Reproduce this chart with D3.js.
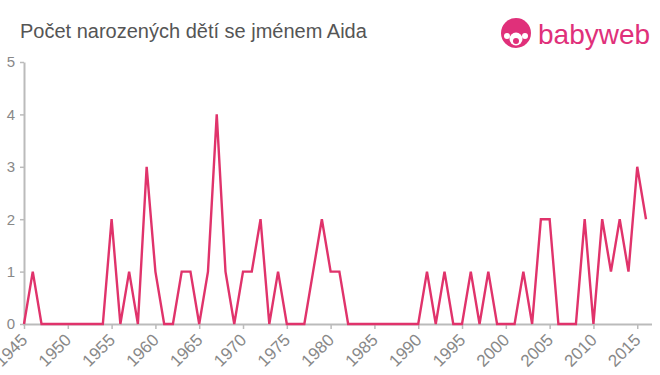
<!DOCTYPE html>
<html>
<head>
<meta charset="utf-8">
<script src="https://cdn.jsdelivr.net/npm/d3@7"></script>
<style>
  body { margin: 0; background: #fff; }
  svg text { font-family: "Liberation Sans", Arial, sans-serif; }
</style>
</head>
<body>
<div id="graf"></div>
<script>
const roky = d3.range(1945, 2017);
const pocty = [
  0, 1, 0, 0, 0, 0, 0, 0, 0, 0,   // 1945-1954
  2, 0, 1, 0, 3, 1, 0, 0, 1, 1,   // 1955-1964
  0, 1, 4, 1, 0, 1, 1, 2, 0, 1,   // 1965-1974
  0, 0, 0, 1, 2, 1, 1, 0, 0, 0,   // 1975-1984
  0, 0, 0, 0, 0, 0, 1, 0, 1, 0,   // 1985-1994
  0, 1, 0, 1, 0, 0, 0, 1, 0, 2,   // 1995-2004
  2, 0, 0, 0, 2, 0, 2, 1, 2, 1,   // 2005-2014
  3, 2                            // 2015-2016
];
const y_popisky = [0, 1, 2, 3, 4, 5];
const x_popisky = d3.range(1945, 2016, 5);
const nadpis = "Počet narozených dětí se jménem Aida";

const sirka = 660, vyska = 375;
const rand = { nahore: 62, dole: 51, vlevo: 24, vpravo: 14 };

const svg = d3.select("#graf")
  .append("svg")
  .attr("width", sirka)
  .attr("height", vyska);

const x = d3.scaleLinear()
  .domain([1945, 2016])
  .range([rand.vlevo, sirka - rand.vpravo]);

const y = d3.scaleLinear()
  .domain([0, 5])
  .range([vyska - rand.dole, rand.nahore]);

// osa y
const osaY = svg.append("g")
  .attr("transform", `translate(${rand.vlevo},0)`)
  .call(d3.axisLeft(y).tickValues(y_popisky).tickFormat(d3.format("d")).tickSize(4).tickSizeOuter(0).tickPadding(5));
osaY.select(".domain").attr("stroke", "#bbb").attr("stroke-width", 2);
osaY.selectAll(".tick line").attr("stroke", "#bbb").attr("stroke-width", 1.5);
osaY.selectAll(".tick text").attr("fill", "#888").attr("font-size", 15);

// osa x
const osaX = svg.append("g")
  .attr("transform", `translate(0,${vyska - rand.dole})`)
  .call(d3.axisBottom(x).tickValues(x_popisky).tickFormat(d3.format("d")).tickSize(5).tickSizeOuter(0));
osaX.select(".domain").attr("stroke", "#bbb").attr("stroke-width", 2)
  .attr("d", `M${rand.vlevo - 1},0.5H${sirka - 8}`);
osaX.selectAll(".tick line").attr("stroke", "#bbb").attr("stroke-width", 1.5);
osaX.selectAll(".tick text")
  .attr("fill", "#888")
  .attr("font-size", 17)
  .attr("text-anchor", "end")
  .attr("x", 0)
  .attr("y", 0)
  .attr("dy", 0)
  .attr("transform", "translate(4,17) rotate(-45)");

// čára
const cara = d3.line()
  .x((d, i) => x(roky[i]))
  .y(d => y(d));

svg.append("path")
  .datum(pocty)
  .attr("fill", "none")
  .attr("stroke", "#e0336b")
  .attr("stroke-width", 2.4)
  .attr("stroke-linejoin", "miter")
  .attr("d", cara);

// nadpis
svg.append("text")
  .attr("x", 20)
  .attr("y", 38)
  .attr("fill", "#555")
  .attr("font-size", 20)
  .text(nadpis);

// logo
const logo = svg.append("g").attr("transform", "translate(516,33)");
logo.append("circle").attr("r", 15).attr("fill", "#e0307a");
logo.append("circle").attr("cx", 0).attr("cy", 6).attr("r", 6.5).attr("fill", "#fff");
logo.append("circle").attr("cx", -9).attr("cy", 3).attr("r", 3).attr("fill", "#fff");
logo.append("circle").attr("cx", 9).attr("cy", 3).attr("r", 3).attr("fill", "#fff");
logo.append("circle").attr("cx", 0).attr("cy", 8).attr("r", 3).attr("fill", "#e0307a");
svg.append("text")
  .attr("x", 538)
  .attr("y", 44)
  .attr("fill", "#e0307a")
  .attr("font-size", 28)
  .text("babyweb");
</script>
</body>
</html>
